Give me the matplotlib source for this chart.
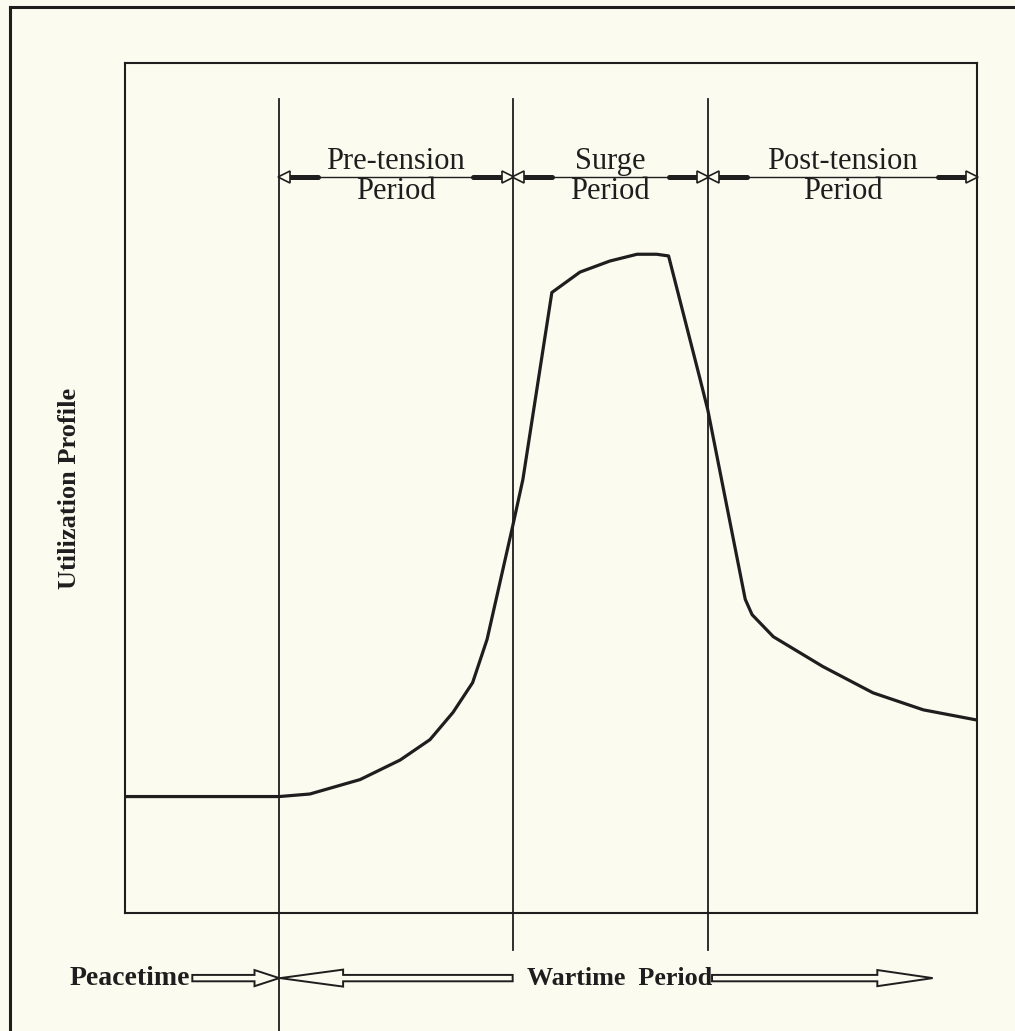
import matplotlib
matplotlib.use("Agg")
import matplotlib.pyplot as plt
from matplotlib.patches import FancyArrow
from matplotlib.lines import Line2D

# ---------------- data ----------------
# time axis in arbitrary units 0..100, utilization in arbitrary units 0..100
time = [0.0, 18.1, 21.7, 27.6, 32.3, 35.8, 38.5, 40.8, 42.5, 45.5, 46.7,
        50.1, 53.4, 56.9, 60.1, 62.4, 63.8, 67.5, 68.4, 72.8, 73.6, 76.1,
        81.9, 87.8, 93.7, 100.0]
utilization = [13.7, 13.7, 14.0, 15.7, 18.0, 20.4, 23.6, 27.1, 32.2, 45.5, 51.0,
               73.0, 75.4, 76.7, 77.5, 77.5, 77.3, 62.8, 59.2, 36.9, 35.1, 32.5,
               29.0, 25.9, 23.9, 22.7]
boundaries = [18.1, 45.5, 68.4, 100.0]   # start of wartime, surge start, surge end, end
period_labels = ["Pre-tension\nPeriod", "Surge\nPeriod", "Post-tension\nPeriod"]
ylabel = "Utilization Profile"
peace_label = "Peacetime"
war_label = "Wartime  Period"

BG = "#fbfbef"
INK = "#1e1e1e"
SERIF = ["Liberation Serif", "DejaVu Serif"]

fig = plt.figure(figsize=(10.15, 10.31), dpi=100, facecolor=BG)
ax = fig.add_axes([125 / 1015, 1 - 913 / 1031, 852 / 1015, 850 / 1031])
ax.set_facecolor(BG)
ax.set_xlim(0, 100)
ax.set_ylim(0, 100)
ax.set_xticks([])
ax.set_yticks([])
for s in ax.spines.values():
    s.set_linewidth(1.5)
    s.set_color(INK)

# curve
ax.plot(time, utilization, color=INK, lw=2.3, solid_joinstyle="round", zorder=3)

# vertical period boundaries
y_top_line = 95.8
ax.plot([boundaries[0]] * 2, [-20, y_top_line], color=INK, lw=1.3, clip_on=False)
for b in boundaries[1:3]:
    ax.plot([b] * 2, [-4.4, y_top_line], color=INK, lw=1.3, clip_on=False)

# period arrows and labels
y_arr = 86.6
for i, lab in enumerate(period_labels):
    b0, b1 = boundaries[i], boundaries[i + 1]
    ax.plot([b0, b1], [y_arr, y_arr], color=INK, lw=1.0, clip_on=False)
    ax.plot([b0 + 1.0, b0 + 4.6], [y_arr, y_arr], color=INK, lw=3.6,
            solid_capstyle="round", clip_on=False)
    ax.plot([b1 - 4.6, b1 - 1.0], [y_arr, y_arr], color=INK, lw=3.6,
            solid_capstyle="round", clip_on=False)
    ax.plot([b0 + 0.6], [y_arr], marker="<", ms=8, mfc=BG, mec=INK, mew=1.2,
            clip_on=False, zorder=4)
    ax.plot([b1 - 0.6], [y_arr], marker=">", ms=8, mfc=BG, mec=INK, mew=1.2,
            clip_on=False, zorder=4)
    ax.text((b0 + b1) / 2, y_arr + 0.1, lab, ha="center", va="center",
            fontsize=22, family=SERIF, color=INK, linespacing=1.05)

# y label
ax.set_ylabel(ylabel, fontsize=19, family=SERIF, fontweight="bold", color=INK,
              labelpad=32)

# bottom: peacetime / wartime arrows
y_b = -7.66
ax.text(7.6, y_b, peace_label, ha="right", va="center", fontsize=20,
        family=SERIF, fontweight="bold", color=INK)
ax.text(58.0, y_b, war_label, ha="center", va="center", fontsize=18.8,
        family=SERIF, fontweight="bold", color=INK)

def hollow_arrow(x0, x1, head_len, head_w):
    a = FancyArrow(x0, y_b, x1 - x0, 0, width=0.75, head_width=head_w,
                   head_length=head_len, length_includes_head=True,
                   fc=BG, ec=INK, lw=1.4)
    a.set_clip_on(False)
    ax.add_patch(a)

hollow_arrow(7.9, boundaries[0], 2.9, 1.9)
hollow_arrow(45.5, boundaries[0] + 0.1, 7.4, 2.0)
hollow_arrow(68.9, 94.8, 6.5, 1.9)

# outer frame (top and left edges visible in the page)
fig.add_artist(Line2D([10 / 1015, 1.0], [1 - 7 / 1031] * 2, color=INK, lw=2.2,
                      transform=fig.transFigure))
fig.add_artist(Line2D([10 / 1015] * 2, [0.0, 1 - 7 / 1031], color=INK, lw=2.2,
                      transform=fig.transFigure))

fig.savefig("out.png", dpi=100, facecolor=BG)
